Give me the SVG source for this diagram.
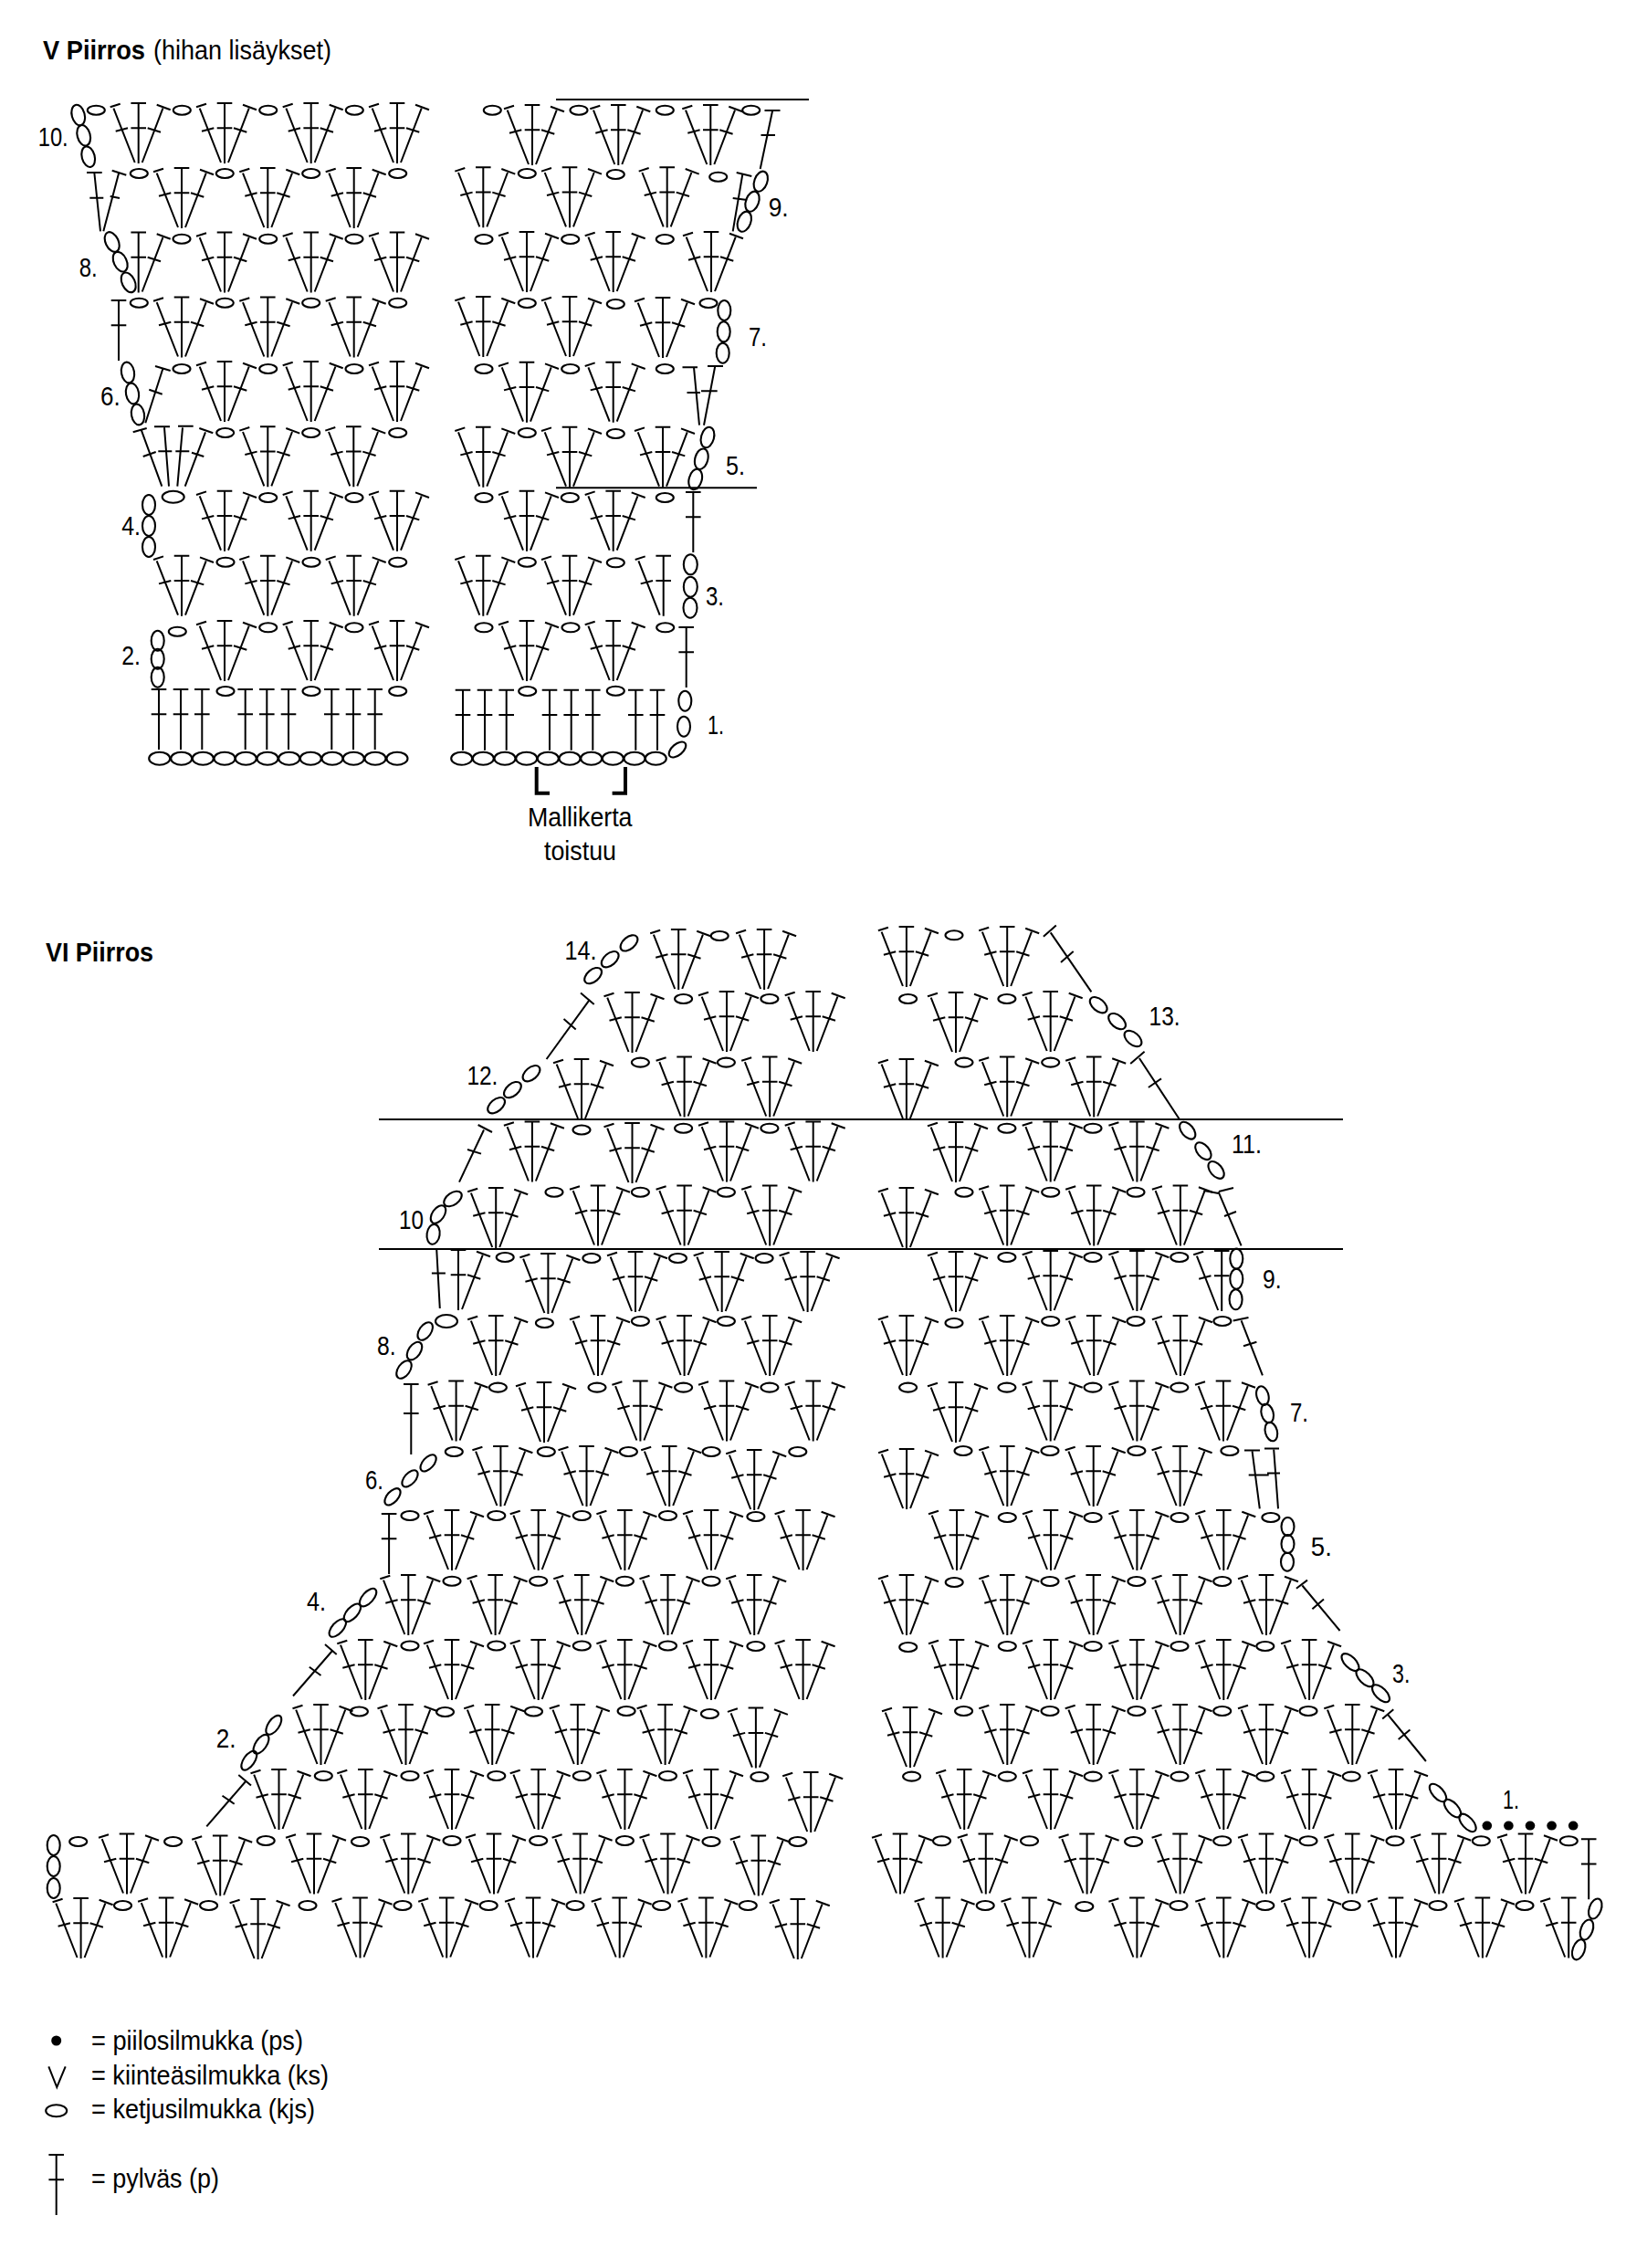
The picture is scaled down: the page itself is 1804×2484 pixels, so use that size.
<svg xmlns="http://www.w3.org/2000/svg" width="1804" height="2484" viewBox="0 0 1804 2484">
<style>
text{font-family:"Liberation Sans",Arial,sans-serif;font-size:29.5px;fill:#000}
.b{font-weight:bold}
.n{font-size:30px}
path,line{fill:none;stroke:#000;stroke-width:2}
ellipse{fill:none;stroke:#000;stroke-width:2.1}
.k{stroke-width:4}
.d{fill:#000;stroke:none}
</style>
<defs>
<path id="s" d="M0 0V66M-8.3 0H8.3M-8.3 27.3H8.3"/>
<path id="l" d="M-27.3 5.7L-4 65M-31 4.3L-20 .7M-25 30.7L-11.7 27.3"/>
<path id="r" d="M26.7 5.7L4 65M20 1.7L35 7.3M10 27.3L24.3 31.7"/>
<path id="f" d="M0 0V66M-8.3 0H8.3M-8.3 27.3H8.3M-27.3 5.7L-4 65M-31 4.3L-20 .7M-25 30.7L-11.7 27.3M26.7 5.7L4 65M20 1.7L35 7.3M10 27.3L24.3 31.7"/>
<ellipse id="o" rx="9.5" ry="5"/>
<ellipse id="c" rx="11.5" ry="7"/>
<ellipse id="t" rx="7" ry="11"/>
</defs>
<g id="titles">
<text class="b" x="47" y="65" textLength="112" lengthAdjust="spacingAndGlyphs">V Piirros</text>
<text x="168" y="65" textLength="195" lengthAdjust="spacingAndGlyphs">(hihan lisäykset)</text>
<text class="b" x="50" y="1053" textLength="118" lengthAdjust="spacingAndGlyphs">VI Piirros</text>
<text x="578" y="905" textLength="114.5" lengthAdjust="spacingAndGlyphs">Mallikerta</text>
<text x="596" y="942" textLength="79" lengthAdjust="spacingAndGlyphs">toistuu</text>
</g>
<g id="v-chart-lines">
<line x1="609" y1="109" x2="886" y2="109"/>
<line x1="609" y1="534.3" x2="829" y2="534.3"/>
<path class="k" d="M587.7 840V868.7H602M685 840V868.7H670.6"/>
</g>
<g id="v-row-10">
<ellipse cx="85.7" cy="126" rx="7" ry="11.5" transform="rotate(-15 85.7 126)"/>
<ellipse cx="91.7" cy="148.3" rx="7" ry="11.5" transform="rotate(-15 91.7 148.3)"/>
<ellipse cx="96.7" cy="171.7" rx="7" ry="11.5" transform="rotate(-15 96.7 171.7)"/>
<use href="#o" x="105.3" y="120.7"/><use href="#o" x="199.3" y="120.7"/><use href="#o" x="293.7" y="120.7"/><use href="#o" x="388.3" y="120.7"/>
<use href="#f" x="151.7" y="113"/><use href="#f" x="246" y="113"/><use href="#f" x="340.7" y="113"/><use href="#f" x="435" y="113"/>
<use href="#f" x="583" y="115"/><use href="#f" x="677.3" y="115"/><use href="#f" x="778.3" y="115"/>
<use href="#o" x="539.3" y="120.7"/><use href="#o" x="634" y="120.7"/><use href="#o" x="728.3" y="120.7"/><use href="#o" x="822.7" y="120.7"/>
<path d="M846 121.7L832.7 185M837.5 121H854.5M833.5 148H849"/>
</g>
<g id="v-row-9">
<path d="M103.3 189L110 253.3M95 189H111.7M98.3 216.7H113.3M130 190L113.3 253.3M122.7 186.7L138.3 191.7M120.7 215L131 217"/>
<use href="#o" x="152.3" y="190"/><use href="#o" x="246.3" y="190"/><use href="#o" x="340.7" y="190"/><use href="#o" x="435.7" y="190"/>
<use href="#f" x="199" y="184"/><use href="#f" x="293.3" y="184"/><use href="#f" x="387.7" y="184"/>
<use href="#f" x="529.3" y="183.3"/><use href="#f" x="624" y="183.3"/><use href="#f" x="730.7" y="183.3"/>
<use href="#o" x="577.3" y="190"/><use href="#o" x="674.3" y="191"/><use href="#o" x="786.7" y="193.7"/>
<path d="M813.3 191L802.7 253.3M806.7 189L823.3 193M802.7 217L818.3 219"/>
<ellipse cx="833.3" cy="198.7" rx="7" ry="11.5" transform="rotate(20 833.3 198.7)"/>
<ellipse cx="824" cy="220.7" rx="7" ry="11.5" transform="rotate(20 824 220.7)"/>
<ellipse cx="815.3" cy="242.7" rx="7" ry="11.5" transform="rotate(20 815.3 242.7)"/>
</g>
<g id="v-row-8">
<ellipse cx="122.7" cy="265" rx="7" ry="11.5" transform="rotate(-25 122.7 265)"/>
<ellipse cx="131.7" cy="286.7" rx="7" ry="11.5" transform="rotate(-25 131.7 286.7)"/>
<ellipse cx="140.7" cy="309.3" rx="7" ry="11.5" transform="rotate(-25 140.7 309.3)"/>
<use href="#s" x="151.7" y="254.5"/><use href="#r" x="151.7" y="254.5"/>
<use href="#f" x="246" y="254.5"/><use href="#f" x="340.7" y="254.5"/><use href="#f" x="435" y="254.5"/>
<use href="#o" x="199" y="261.7"/><use href="#o" x="293.7" y="261.7"/><use href="#o" x="388" y="261.7"/>
<use href="#f" x="577" y="254"/><use href="#f" x="671.7" y="254"/><use href="#f" x="779" y="254"/>
<use href="#o" x="530" y="262"/><use href="#o" x="624.7" y="262"/><use href="#o" x="728.3" y="262"/>
</g>
<g id="v-row-7">
<use href="#s" x="130" y="329"/>
<use href="#o" x="152.3" y="331.7"/><use href="#o" x="246.3" y="331.7"/><use href="#o" x="340.7" y="331.7"/><use href="#o" x="435.7" y="331.7"/>
<use href="#f" x="199" y="325.5"/><use href="#f" x="293.3" y="325.5"/><use href="#f" x="387.7" y="325.5"/>
<use href="#f" x="529.3" y="325"/><use href="#f" x="624" y="325"/><use href="#f" x="726" y="326"/>
<use href="#o" x="577.3" y="332"/><use href="#o" x="674.3" y="333"/><use href="#o" x="776" y="332"/>
<use href="#t" x="793.3" y="340"/><use href="#t" x="792.7" y="363.3"/><use href="#t" x="791.7" y="386.7"/>
</g>
<g id="v-row-6">
<ellipse cx="140" cy="408" rx="7" ry="11.5" transform="rotate(-10 140 408)"/>
<ellipse cx="145" cy="431" rx="7" ry="11.5" transform="rotate(-10 145 431)"/>
<ellipse cx="151" cy="454" rx="7" ry="11.5" transform="rotate(-10 151 454)"/>
<path d="M178.3 404L159.3 463.3M170 401L186.7 406M163.3 426.7L177.7 431.7"/>
<use href="#o" x="199" y="404"/><use href="#o" x="293.7" y="404"/><use href="#o" x="388" y="404"/>
<use href="#f" x="246" y="396"/><use href="#f" x="340.7" y="396"/><use href="#f" x="435" y="396"/>
<use href="#f" x="577" y="396.7"/><use href="#f" x="671.7" y="396.7"/>
<use href="#o" x="530" y="404"/><use href="#o" x="624.7" y="404"/><use href="#o" x="728.3" y="404"/>
<path d="M760 402.3L766 465.7M783.3 400.7L771 465.7M747.5 402.3H764M775 401H792M752.5 430H767M768 428.3H785.7"/>
</g>
<g id="v-row-5">
<path d="M155 471.7L177.3 532.7M180 468.3L185 532.7M200 468.3L194.3 532.7M225 473.3L202.7 532.7M145.7 473.3L160.7 469M169 467.3H186M195 466.7H211.7M218.3 469L233.3 474.3M156.7 500L170.7 495M173.3 494.3H188.3M192.3 494.3H207.3M210 495.7L223.3 500"/>
<use href="#f" x="293.3" y="467.3"/><use href="#f" x="387.3" y="467.3"/>
<use href="#o" x="246.7" y="474"/><use href="#o" x="340.7" y="474"/><use href="#o" x="435.7" y="474"/>
<use href="#f" x="529.3" y="467.7"/><use href="#f" x="624" y="467.7"/><use href="#f" x="726" y="467.7"/>
<use href="#o" x="577.3" y="474"/><use href="#o" x="674.3" y="475"/>
<ellipse cx="775" cy="479" rx="7" ry="11.5" transform="rotate(15 775 479)"/>
<ellipse cx="768.3" cy="502.7" rx="7" ry="11.5" transform="rotate(15 768.3 502.7)"/>
<ellipse cx="761.7" cy="525" rx="7" ry="11.5" transform="rotate(15 761.7 525)"/>
</g>
<g id="v-row-4">
<use href="#t" x="163" y="553"/><use href="#t" x="163" y="576"/><use href="#t" x="163" y="599"/>
<ellipse cx="189.7" cy="544.3" rx="12" ry="6.5"/>
<use href="#o" x="293.7" y="545"/><use href="#o" x="388" y="545"/>
<use href="#f" x="246" y="537.7"/><use href="#f" x="340.7" y="537.7"/><use href="#f" x="435" y="537.7"/>
<use href="#f" x="577" y="537.7"/><use href="#f" x="671.7" y="537.7"/>
<use href="#o" x="530" y="545"/><use href="#o" x="624.3" y="545"/><use href="#o" x="728.3" y="545"/>
<use href="#s" x="759.3" y="539"/>
</g>
<g id="v-row-3">
<use href="#f" x="199" y="608.7"/><use href="#f" x="293.3" y="608.7"/><use href="#f" x="387.7" y="608.7"/>
<use href="#o" x="247" y="615.7"/><use href="#o" x="341" y="615.7"/><use href="#o" x="435.7" y="615.7"/>
<use href="#f" x="529.3" y="608.7"/><use href="#f" x="624" y="608.7"/>
<use href="#s" x="726.7" y="608.7"/><use href="#l" x="726.7" y="608.7"/>
<use href="#o" x="577.3" y="615.7"/><use href="#o" x="674.3" y="616.3"/>
<ellipse cx="756.3" cy="618.3" rx="7.5" ry="11"/><ellipse cx="756.3" cy="642.7" rx="7.5" ry="11"/><ellipse cx="756" cy="665.7" rx="7.5" ry="11"/>
</g>
<g id="v-row-2">
<use href="#t" x="172.7" y="701.7"/><use href="#t" x="172.7" y="721.7"/><use href="#t" x="172.7" y="741.7"/>
<use href="#o" x="194.3" y="691.7"/><use href="#o" x="293.7" y="687.3"/><use href="#o" x="388" y="687.3"/>
<use href="#f" x="246" y="680"/><use href="#f" x="340.7" y="680"/><use href="#f" x="435" y="680"/>
<use href="#f" x="577" y="680"/><use href="#f" x="671.7" y="680"/>
<use href="#o" x="530" y="687.3"/><use href="#o" x="625" y="687.3"/><use href="#o" x="728.7" y="687.3"/>
<use href="#s" x="751.7" y="687"/>
</g>
<g id="v-row-1">
<use href="#s" x="174" y="755"/><use href="#s" x="198" y="755"/><use href="#s" x="221.3" y="755"/>
<use href="#s" x="268.7" y="755"/><use href="#s" x="292.3" y="755"/><use href="#s" x="316" y="755"/>
<use href="#s" x="363.3" y="755"/><use href="#s" x="387" y="755"/><use href="#s" x="410.7" y="755"/>
<use href="#o" x="247" y="757"/><use href="#o" x="341" y="757"/><use href="#o" x="435.7" y="757"/>
<use href="#s" x="507" y="755.7"/><use href="#s" x="531" y="755.7"/><use href="#s" x="554.7" y="755.7"/>
<use href="#s" x="602" y="755.7"/><use href="#s" x="625.7" y="755.7"/><use href="#s" x="649.3" y="755.7"/>
<use href="#s" x="696.3" y="755.7"/><use href="#s" x="720" y="755.7"/>
<use href="#o" x="577.7" y="757"/><use href="#o" x="674.3" y="756.7"/>
<use href="#t" x="750.3" y="767.7"/><use href="#t" x="749" y="795.7"/>
<ellipse cx="742" cy="821" rx="11" ry="6" transform="rotate(-40 742 821)"/>
</g>
<g id="v-foundation">
<use href="#c" x="174.7" y="830.7"/><use href="#c" x="198.7" y="830.7"/><use href="#c" x="222.3" y="830.7"/><use href="#c" x="246" y="830.7"/><use href="#c" x="269.3" y="830.7"/><use href="#c" x="293" y="830.7"/><use href="#c" x="316.7" y="830.7"/><use href="#c" x="340.3" y="830.7"/><use href="#c" x="364" y="830.7"/><use href="#c" x="387.3" y="830.7"/><use href="#c" x="411" y="830.7"/><use href="#c" x="435" y="830.7"/>
<use href="#c" x="505.7" y="830.7"/><use href="#c" x="529.3" y="830.7"/><use href="#c" x="553" y="830.7"/><use href="#c" x="576.7" y="830.7"/><use href="#c" x="600.3" y="830.7"/><use href="#c" x="624" y="830.7"/><use href="#c" x="647.7" y="830.7"/><use href="#c" x="671.3" y="830.7"/><use href="#c" x="695" y="830.7"/><use href="#c" x="718.3" y="830.7"/>
</g>
<g id="v-labels">
<text class="n" x="41.7" y="160" textLength="33" lengthAdjust="spacingAndGlyphs">10.</text>
<text class="n" x="86.7" y="302.7" textLength="20" lengthAdjust="spacingAndGlyphs">8.</text>
<text class="n" x="110" y="444" textLength="21.7" lengthAdjust="spacingAndGlyphs">6.</text>
<text class="n" x="133.3" y="586" textLength="20.7" lengthAdjust="spacingAndGlyphs">4.</text>
<text class="n" x="133.3" y="728" textLength="20.7" lengthAdjust="spacingAndGlyphs">2.</text>
<text class="n" x="775" y="804" textLength="18" lengthAdjust="spacingAndGlyphs">1.</text>
<text class="n" x="773" y="662.7" textLength="20" lengthAdjust="spacingAndGlyphs">3.</text>
<text class="n" x="795" y="520" textLength="21" lengthAdjust="spacingAndGlyphs">5.</text>
<text class="n" x="820" y="379" textLength="20" lengthAdjust="spacingAndGlyphs">7.</text>
<text class="n" x="841.7" y="237" textLength="22" lengthAdjust="spacingAndGlyphs">9.</text>
</g>
<g id="vi-lines">
<line x1="415" y1="1226" x2="1471" y2="1226"/>
<line x1="415" y1="1368" x2="1471" y2="1368"/>
</g>
<g id="vi-row-14">
<ellipse cx="689" cy="1032.9" rx="11" ry="6.5" transform="rotate(-40 689 1032.9)"/>
<ellipse cx="668.2" cy="1050.7" rx="11" ry="6.5" transform="rotate(-40 668.2 1050.7)"/>
<ellipse cx="649.6" cy="1068.6" rx="11" ry="6.5" transform="rotate(-40 649.6 1068.6)"/>
<use href="#f" x="743.2" y="1018"/><use href="#f" x="837.1" y="1018"/><use href="#o" x="788.2" y="1025"/>
<use href="#f" x="992.9" y="1015"/><use href="#f" x="1103.2" y="1015"/><use href="#o" x="1045" y="1024.3"/>
<path d="M1150.7 1021.4L1195.4 1086.4M1142.9 1025.7L1156.8 1013.6M1162 1054L1175.7 1042"/>
</g>
<g id="vi-row-13">
<path d="M646 1094.6L598.6 1160M636 1087.5L650.7 1100M617.5 1116L630.7 1127.5"/>
<use href="#f" x="692.5" y="1087"/><use href="#f" x="796" y="1086"/><use href="#f" x="890.7" y="1086"/>
<use href="#o" x="748.6" y="1094"/><use href="#o" x="842.9" y="1094"/>
<use href="#o" x="994.6" y="1094"/><use href="#o" x="1102.9" y="1094"/>
<use href="#f" x="1047" y="1087"/><use href="#f" x="1150.7" y="1086"/>
<ellipse cx="1203.2" cy="1100.7" rx="11" ry="6.5" transform="rotate(40 1203.2 1100.7)"/>
<ellipse cx="1223.6" cy="1118.6" rx="11" ry="6.5" transform="rotate(40 1223.6 1118.6)"/>
<ellipse cx="1241" cy="1137.5" rx="11" ry="6.5" transform="rotate(40 1241 1137.5)"/>
</g>
<g id="vi-row-12">
<ellipse cx="582" cy="1175.7" rx="11" ry="6.5" transform="rotate(-40 582 1175.7)"/>
<ellipse cx="561.4" cy="1193.6" rx="11" ry="6.5" transform="rotate(-40 561.4 1193.6)"/>
<ellipse cx="543.6" cy="1210.7" rx="11" ry="6.5" transform="rotate(-40 543.6 1210.7)"/>
<use href="#f" x="637" y="1160"/><use href="#f" x="749.6" y="1157.5"/><use href="#f" x="843.2" y="1157.5"/>
<use href="#o" x="701.4" y="1163.6"/><use href="#o" x="795.4" y="1163.6"/>
<use href="#f" x="992.9" y="1160"/><use href="#f" x="1103.2" y="1157.5"/><use href="#f" x="1198.2" y="1157.5"/>
<use href="#o" x="1056" y="1163.6"/><use href="#o" x="1150.7" y="1163.6"/>
<path d="M1247.9 1159L1291.8 1225.7M1238.2 1165L1253.6 1151.8M1257.9 1191L1272 1181.4"/>
</g>
<g id="vi-row-11">
<path d="M530 1237.5L503 1294.6M523.6 1232L539 1240M512 1259L527 1263.6"/>
<use href="#f" x="582.9" y="1228.5"/><use href="#f" x="692.5" y="1230"/><use href="#f" x="796" y="1228.5"/><use href="#f" x="890.7" y="1228.5"/>
<use href="#o" x="637" y="1237.5"/><use href="#o" x="748.6" y="1235.7"/><use href="#o" x="842.9" y="1235.7"/>
<use href="#f" x="1047" y="1229"/><use href="#f" x="1150.7" y="1228.5"/><use href="#f" x="1245.4" y="1228.5"/>
<use href="#o" x="1102.9" y="1235.7"/><use href="#o" x="1197" y="1235.7"/>
<ellipse cx="1300.7" cy="1238.2" rx="11" ry="6.5" transform="rotate(50 1300.7 1238.2)"/>
<ellipse cx="1317.9" cy="1260.7" rx="11" ry="6.5" transform="rotate(50 1317.9 1260.7)"/>
<ellipse cx="1332.1" cy="1281.4" rx="11" ry="6.5" transform="rotate(50 1332.1 1281.4)"/>
</g>
<g id="vi-row-10">
<ellipse cx="496" cy="1313" rx="11" ry="6.5" transform="rotate(-35 496 1313)"/>
<ellipse cx="480" cy="1330" rx="11" ry="6.5" transform="rotate(-55 480 1330)"/>
<ellipse cx="474.6" cy="1351.8" rx="7" ry="11" transform="rotate(8 474.6 1351.8)"/>
<use href="#f" x="543.2" y="1301"/><use href="#f" x="655" y="1298.5"/><use href="#f" x="749.6" y="1298.5"/><use href="#f" x="843.2" y="1298.5"/>
<use href="#o" x="607" y="1305.7"/><use href="#o" x="701.4" y="1305.7"/><use href="#o" x="795.4" y="1305.7"/>
<use href="#f" x="992.9" y="1301"/><use href="#f" x="1103.2" y="1298.5"/><use href="#f" x="1198.2" y="1298.5"/><use href="#f" x="1292.9" y="1298.5"/>
<use href="#o" x="1056" y="1305.7"/><use href="#o" x="1150.7" y="1305.7"/><use href="#o" x="1244" y="1305.7"/>
<path d="M1334.6 1305.4L1359.6 1364.3M1318.6 1304L1334.6 1307M1335 1305L1351 1301M1341 1332L1354 1327"/>
</g>
<g id="vi-row-9">
<path d="M478.2 1368L481.8 1433M470 1368H488M472.9 1394.6H487.9"/>
<use href="#s" x="502" y="1369"/><use href="#r" x="502" y="1369"/>
<use href="#f" x="600.4" y="1373"/><use href="#f" x="696" y="1371"/><use href="#f" x="790.7" y="1371"/><use href="#f" x="884.6" y="1371"/>
<use href="#o" x="553.2" y="1377"/><use href="#o" x="647.9" y="1378"/><use href="#o" x="742.5" y="1378"/><use href="#o" x="837.1" y="1378"/>
<use href="#f" x="1047" y="1371"/><use href="#f" x="1150.7" y="1370"/><use href="#f" x="1245.4" y="1370"/>
<use href="#s" x="1338.2" y="1370"/><use href="#l" x="1338.2" y="1370"/>
<use href="#o" x="1102.9" y="1377"/><use href="#o" x="1197" y="1377"/><use href="#o" x="1291.8" y="1377"/>
<use href="#t" x="1354.3" y="1378.6"/><use href="#t" x="1354.3" y="1400.7"/><use href="#t" x="1353.6" y="1423.2"/>
</g>
<g id="vi-row-8">
<ellipse cx="465.7" cy="1458" rx="11" ry="6.5" transform="rotate(-55 465.7 1458)"/>
<ellipse cx="454" cy="1479.6" rx="11" ry="6.5" transform="rotate(-55 454 1479.6)"/>
<ellipse cx="442.5" cy="1500" rx="11" ry="6.5" transform="rotate(-55 442.5 1500)"/>
<ellipse cx="489" cy="1447" rx="12" ry="7"/>
<use href="#o" x="596.4" y="1449"/><use href="#o" x="701.4" y="1447"/><use href="#o" x="795.4" y="1447"/>
<use href="#f" x="543.2" y="1441"/><use href="#f" x="655" y="1441"/><use href="#f" x="749.6" y="1441"/><use href="#f" x="843.2" y="1441"/>
<use href="#f" x="992.9" y="1441"/><use href="#f" x="1103.2" y="1441"/><use href="#f" x="1198.2" y="1441"/><use href="#f" x="1292.9" y="1441"/>
<use href="#o" x="1045" y="1449"/><use href="#o" x="1150.7" y="1447"/><use href="#o" x="1244" y="1447"/><use href="#o" x="1338.9" y="1447"/>
<path d="M1359.6 1446.4L1382.9 1506.4M1350.7 1446.4L1367.5 1443M1362 1474.3L1376.4 1469.7"/>
</g>
<g id="vi-row-7">
<path d="M450.3 1516V1593M442 1516H458.6M442 1548H458.6"/>
<use href="#f" x="499.6" y="1512.5"/><use href="#f" x="596" y="1514"/><use href="#f" x="701.4" y="1512.5"/><use href="#f" x="796" y="1512.5"/><use href="#f" x="890.7" y="1512.5"/>
<use href="#o" x="545.4" y="1519.6"/><use href="#o" x="654" y="1519.6"/><use href="#o" x="748.6" y="1519.6"/><use href="#o" x="842.9" y="1519.6"/>
<use href="#f" x="1047" y="1514"/><use href="#f" x="1150.7" y="1512.5"/><use href="#f" x="1245.4" y="1512.5"/><use href="#f" x="1340" y="1512.5"/>
<use href="#o" x="994.6" y="1519.6"/><use href="#o" x="1102.9" y="1519.6"/><use href="#o" x="1197" y="1519.6"/><use href="#o" x="1291.8" y="1519.6"/>
<ellipse cx="1382.9" cy="1528.6" rx="6.5" ry="10.5" transform="rotate(-15 1382.9 1528.6)"/>
<ellipse cx="1388.2" cy="1548" rx="6.5" ry="10.5" transform="rotate(-15 1388.2 1548)"/>
<ellipse cx="1392.4" cy="1568" rx="6.5" ry="10.5" transform="rotate(-15 1392.4 1568)"/>
</g>
<g id="vi-row-6">
<ellipse cx="469.1" cy="1602.4" rx="11" ry="6" transform="rotate(-48 469.1 1602.4)"/>
<ellipse cx="449" cy="1619.4" rx="11" ry="6" transform="rotate(-48 449 1619.4)"/>
<ellipse cx="430" cy="1639.3" rx="11" ry="6" transform="rotate(-48 430 1639.3)"/>
<use href="#o" x="497.3" y="1590"/><use href="#o" x="598.3" y="1590"/><use href="#o" x="688.4" y="1590"/><use href="#o" x="779.1" y="1590"/><use href="#o" x="873.8" y="1590"/>
<use href="#f" x="548.4" y="1584"/><use href="#f" x="642.5" y="1584"/><use href="#f" x="733.2" y="1584"/><use href="#f" x="826.2" y="1588"/>
<use href="#f" x="993.1" y="1587"/><use href="#f" x="1103.3" y="1584"/><use href="#f" x="1197.7" y="1584"/><use href="#f" x="1292.6" y="1584"/>
<use href="#o" x="1055" y="1589"/><use href="#o" x="1150" y="1589"/><use href="#o" x="1244.9" y="1589"/><use href="#o" x="1346.9" y="1589"/>
<path d="M1371.6 1589.7L1379.8 1652.4M1395.2 1587.7L1400 1652.4M1363 1588.5H1380M1385 1586.5H1401M1367.7 1615.5H1389.7M1388 1613.5H1402"/>
</g>
<g id="vi-row-5">
<use href="#s" x="426.1" y="1658"/>
<use href="#o" x="449" y="1660"/><use href="#o" x="543.8" y="1660"/><use href="#o" x="637.3" y="1660"/><use href="#o" x="731.5" y="1660"/><use href="#o" x="827.9" y="1661"/>
<use href="#f" x="495" y="1654"/><use href="#f" x="589.7" y="1654"/><use href="#f" x="684.4" y="1654"/><use href="#f" x="779" y="1654"/><use href="#f" x="879.6" y="1654"/>
<use href="#f" x="1048" y="1654"/><use href="#f" x="1151" y="1654"/><use href="#f" x="1245.4" y="1654"/><use href="#f" x="1340.3" y="1654"/>
<use href="#o" x="1103.3" y="1662"/><use href="#o" x="1197.1" y="1662"/><use href="#o" x="1292" y="1662"/><use href="#o" x="1391.9" y="1662"/>
<ellipse cx="1410.5" cy="1672" rx="7" ry="10"/><ellipse cx="1410.5" cy="1691" rx="7" ry="10"/><ellipse cx="1410" cy="1710.7" rx="7" ry="10"/>
</g>
<g id="vi-row-4">
<ellipse cx="403.1" cy="1749.6" rx="12" ry="6" transform="rotate(-48 403.1 1749.6)"/>
<ellipse cx="385.9" cy="1766.3" rx="12" ry="6" transform="rotate(-48 385.9 1766.3)"/>
<ellipse cx="369.8" cy="1783" rx="12" ry="6" transform="rotate(-48 369.8 1783)"/>
<use href="#f" x="447.3" y="1725"/><use href="#f" x="542.6" y="1725"/><use href="#f" x="637.3" y="1725"/><use href="#f" x="731.5" y="1725"/><use href="#f" x="826.2" y="1725"/>
<use href="#o" x="495" y="1731.7"/><use href="#o" x="589.7" y="1731.7"/><use href="#o" x="684.4" y="1731.7"/><use href="#o" x="779" y="1731.7"/>
<use href="#f" x="993" y="1725"/><use href="#f" x="1103.3" y="1725"/><use href="#f" x="1197.7" y="1725"/><use href="#f" x="1292.6" y="1725"/><use href="#f" x="1387" y="1725"/>
<use href="#o" x="1045.2" y="1733"/><use href="#o" x="1150" y="1732"/><use href="#o" x="1244.9" y="1732"/><use href="#o" x="1338.7" y="1732"/>
<path d="M1426.4 1736.5L1467.6 1786M1419.9 1739.7L1432 1730.6M1437.4 1762.3L1450 1751.6"/>
</g>
<g id="vi-row-3">
<path d="M364 1808L321 1857.5M356 1801L368.7 1812M338.8 1825.8L351.5 1835"/>
<use href="#f" x="400.3" y="1796"/><use href="#f" x="495" y="1796"/><use href="#f" x="589.7" y="1796"/><use href="#f" x="684.4" y="1796"/><use href="#f" x="779" y="1796"/><use href="#f" x="879.6" y="1796"/>
<use href="#o" x="449" y="1802.5"/><use href="#o" x="543.8" y="1802.5"/><use href="#o" x="637.3" y="1802.5"/><use href="#o" x="731.5" y="1802.5"/><use href="#o" x="827.9" y="1803"/>
<use href="#f" x="1048" y="1796"/><use href="#f" x="1151" y="1796"/><use href="#f" x="1245.4" y="1796"/><use href="#f" x="1340.3" y="1796"/><use href="#f" x="1434.1" y="1796"/>
<use href="#o" x="994.7" y="1804"/><use href="#o" x="1103.3" y="1803"/><use href="#o" x="1197.1" y="1803"/><use href="#o" x="1292" y="1803"/><use href="#o" x="1385.8" y="1803"/>
<ellipse cx="1479" cy="1820.6" rx="12" ry="6" transform="rotate(45 1479 1820.6)"/>
<ellipse cx="1495" cy="1837.7" rx="12" ry="6" transform="rotate(45 1495 1837.7)"/>
<ellipse cx="1512.5" cy="1854.8" rx="12" ry="6" transform="rotate(45 1512.5 1854.8)"/>
</g>
<g id="vi-row-2">
<ellipse cx="299.8" cy="1889.3" rx="12" ry="6" transform="rotate(-55 299.8 1889.3)"/>
<ellipse cx="286" cy="1910.3" rx="12" ry="6" transform="rotate(-55 286 1910.3)"/>
<ellipse cx="272.8" cy="1928.2" rx="12" ry="6" transform="rotate(-55 272.8 1928.2)"/>
<use href="#f" x="351.5" y="1867"/><use href="#f" x="444.5" y="1867"/><use href="#f" x="539.2" y="1867"/><use href="#f" x="632.8" y="1867"/><use href="#f" x="728.6" y="1867"/><use href="#f" x="827.9" y="1870.6"/>
<use href="#o" x="393.4" y="1874.5"/><use href="#o" x="487.5" y="1875"/><use href="#o" x="584.5" y="1874.5"/><use href="#o" x="686.1" y="1874"/><use href="#o" x="777.4" y="1877"/>
<use href="#f" x="997" y="1870"/><use href="#f" x="1103.3" y="1867"/><use href="#f" x="1197.7" y="1867"/><use href="#f" x="1292.6" y="1867"/><use href="#f" x="1387" y="1867"/><use href="#f" x="1481.3" y="1867"/>
<use href="#o" x="1055.6" y="1874"/><use href="#o" x="1150" y="1874"/><use href="#o" x="1244.9" y="1874"/><use href="#o" x="1338.7" y="1874"/><use href="#o" x="1433" y="1874"/>
<path d="M1519.7 1877.4L1561.9 1929M1514.2 1882.5L1526.3 1872.2M1531.7 1905L1544.4 1894.4"/>
</g>
<g id="vi-row-1-upper">
<path d="M270 1950L226.3 2000.4M261.3 1944L275 1955.5M243.5 1966.7L256.7 1975.8"/>
<use href="#f" x="305.5" y="1938"/><use href="#f" x="400.3" y="1938"/><use href="#f" x="495" y="1938"/><use href="#f" x="589.7" y="1938"/><use href="#f" x="684.4" y="1938"/><use href="#f" x="779" y="1938"/><use href="#f" x="888.2" y="1941"/>
<use href="#o" x="354.3" y="1945"/><use href="#o" x="449" y="1945"/><use href="#o" x="543.8" y="1945"/><use href="#o" x="637.3" y="1945"/><use href="#o" x="731.5" y="1945"/><use href="#o" x="831.9" y="1946"/>
<use href="#f" x="1056.2" y="1938"/><use href="#f" x="1151" y="1938"/><use href="#f" x="1245.4" y="1938"/><use href="#f" x="1340.3" y="1938"/><use href="#f" x="1434.1" y="1938"/><use href="#f" x="1529" y="1938"/>
<use href="#o" x="998.6" y="1945.6"/><use href="#o" x="1103.3" y="1945.6"/><use href="#o" x="1197.1" y="1945.6"/><use href="#o" x="1292" y="1945.6"/><use href="#o" x="1385.8" y="1945.6"/><use href="#o" x="1480.2" y="1945.6"/>
<ellipse cx="1575" cy="1963.5" rx="12" ry="6" transform="rotate(48 1575 1963.5)"/>
<ellipse cx="1591" cy="1980.6" rx="12" ry="6" transform="rotate(48 1591 1980.6)"/>
<ellipse cx="1607.5" cy="1996.4" rx="12" ry="6" transform="rotate(48 1607.5 1996.4)"/>
<ellipse class="d" cx="1628.8" cy="1999.6" rx="5.3" ry="5"/><ellipse class="d" cx="1652.4" cy="1999.6" rx="5.3" ry="5"/><ellipse class="d" cx="1676" cy="1999.6" rx="5.3" ry="5"/><ellipse class="d" cx="1699.6" cy="1999.6" rx="5.3" ry="5"/><ellipse class="d" cx="1723.2" cy="1999.6" rx="5.3" ry="5"/>
</g>
<g id="vi-row-second-last">
<use href="#t" x="58.7" y="2021"/><use href="#t" x="58.7" y="2044"/><use href="#t" x="58.7" y="2068"/>
<use href="#o" x="85.7" y="2017"/><use href="#o" x="189.6" y="2017"/><use href="#o" x="291.2" y="2016"/><use href="#o" x="394.5" y="2017"/><use href="#o" x="495" y="2016"/><use href="#o" x="589.7" y="2016"/><use href="#o" x="684.4" y="2016"/><use href="#o" x="779" y="2017"/><use href="#o" x="873.8" y="2017"/>
<use href="#f" x="139" y="2008.5"/><use href="#f" x="241.2" y="2010.5"/><use href="#f" x="344" y="2008.5"/><use href="#f" x="447.3" y="2008.5"/><use href="#f" x="541" y="2008.5"/><use href="#f" x="635.6" y="2008.5"/><use href="#f" x="731.5" y="2008.5"/><use href="#f" x="830.8" y="2010.5"/>
<use href="#f" x="986" y="2008.5"/><use href="#f" x="1079.8" y="2008.5"/><use href="#f" x="1190.6" y="2008.5"/><use href="#f" x="1292.6" y="2008.5"/><use href="#f" x="1387" y="2008.5"/><use href="#f" x="1481.3" y="2008.5"/><use href="#f" x="1576.2" y="2008.5"/><use href="#f" x="1671" y="2008.5"/>
<use href="#o" x="1031.5" y="2016.3"/><use href="#o" x="1127.5" y="2016.3"/><use href="#o" x="1241.6" y="2017"/><use href="#o" x="1338.7" y="2016.3"/><use href="#o" x="1433" y="2016.3"/><use href="#o" x="1528" y="2016.3"/><use href="#o" x="1622.3" y="2016.3"/><use href="#o" x="1718.3" y="2016.3"/>
<use href="#s" x="1740.2" y="2014.3"/>
</g>
<g id="vi-row-last">
<use href="#f" x="88.6" y="2079"/><use href="#f" x="182.1" y="2078.5"/><use href="#f" x="282.6" y="2080"/><use href="#f" x="394.5" y="2078.5"/><use href="#f" x="489.2" y="2078.5"/><use href="#f" x="584" y="2078.5"/><use href="#f" x="678.7" y="2078.5"/><use href="#f" x="773.4" y="2078.5"/><use href="#f" x="873.8" y="2080"/>
<use href="#o" x="134.5" y="2087"/><use href="#o" x="228.6" y="2087"/><use href="#o" x="337" y="2087"/><use href="#o" x="441" y="2087"/><use href="#o" x="535.2" y="2087"/><use href="#o" x="630" y="2087"/><use href="#o" x="724.6" y="2087"/><use href="#o" x="819.3" y="2087"/>
<use href="#f" x="1032.6" y="2078.5"/><use href="#f" x="1127.5" y="2078.5"/><use href="#f" x="1245.4" y="2078.5"/><use href="#f" x="1340.3" y="2078.5"/><use href="#f" x="1434.1" y="2078.5"/><use href="#f" x="1529" y="2078.5"/><use href="#f" x="1623.9" y="2078.5"/>
<use href="#s" x="1718.2" y="2078.5"/><use href="#l" x="1718.2" y="2078.5"/>
<use href="#o" x="1079.2" y="2087"/><use href="#o" x="1187.8" y="2088"/><use href="#o" x="1291" y="2087"/><use href="#o" x="1385.8" y="2087"/><use href="#o" x="1480.2" y="2087"/><use href="#o" x="1575" y="2087"/><use href="#o" x="1670" y="2087"/>
<ellipse cx="1747.3" cy="2090.5" rx="6.5" ry="11.5" transform="rotate(20 1747.3 2090.5)"/>
<ellipse cx="1738" cy="2113.5" rx="6.5" ry="11.5" transform="rotate(20 1738 2113.5)"/>
<ellipse cx="1729.2" cy="2135.3" rx="6.5" ry="11.5" transform="rotate(20 1729.2 2135.3)"/>
</g>
<g id="vi-labels">
<text class="n" x="618.6" y="1050.7" textLength="35" lengthAdjust="spacingAndGlyphs">14.</text>
<text class="n" x="511.4" y="1187.5" textLength="34" lengthAdjust="spacingAndGlyphs">12.</text>
<text class="n" x="437" y="1345.7" textLength="27" lengthAdjust="spacingAndGlyphs">10</text>
<text class="n" x="413" y="1484" textLength="20.6" lengthAdjust="spacingAndGlyphs">8.</text>
<text class="n" x="1258.6" y="1123" textLength="34" lengthAdjust="spacingAndGlyphs">13.</text>
<text class="n" x="1349" y="1263" textLength="33" lengthAdjust="spacingAndGlyphs">11.</text>
<text class="n" x="1383" y="1411" textLength="20.6" lengthAdjust="spacingAndGlyphs">9.</text>
<text class="n" x="1413" y="1557" textLength="20" lengthAdjust="spacingAndGlyphs">7.</text>
<text class="n" x="1435.8" y="1704" textLength="23" lengthAdjust="spacingAndGlyphs">5.</text>
<text class="n" x="1525" y="1843" textLength="19.4" lengthAdjust="spacingAndGlyphs">3.</text>
<text class="n" x="1646" y="1980.5" textLength="18" lengthAdjust="spacingAndGlyphs">1.</text>
<text class="n" x="400" y="1630.6" textLength="20" lengthAdjust="spacingAndGlyphs">6.</text>
<text class="n" x="336" y="1764" textLength="21" lengthAdjust="spacingAndGlyphs">4.</text>
<text class="n" x="236.7" y="1914" textLength="21.8" lengthAdjust="spacingAndGlyphs">2.</text>
</g>
<g id="legend">
<circle class="d" cx="61.7" cy="2235" r="5.5"/>
<path d="M53.3 2263.3L62.3 2286L71.7 2263.3"/>
<ellipse cx="61.7" cy="2311.7" rx="11.5" ry="6.5"/>
<use href="#s" x="61.7" y="2360"/>
<text x="100" y="2245" textLength="232" lengthAdjust="spacingAndGlyphs">= piilosilmukka (ps)</text>
<text x="100" y="2283" textLength="260" lengthAdjust="spacingAndGlyphs">= kiinteäsilmukka (ks)</text>
<text x="100" y="2320" textLength="245" lengthAdjust="spacingAndGlyphs">= ketjusilmukka (kjs)</text>
<text x="100" y="2396" textLength="140" lengthAdjust="spacingAndGlyphs">= pylväs (p)</text>
</g>
</svg>
